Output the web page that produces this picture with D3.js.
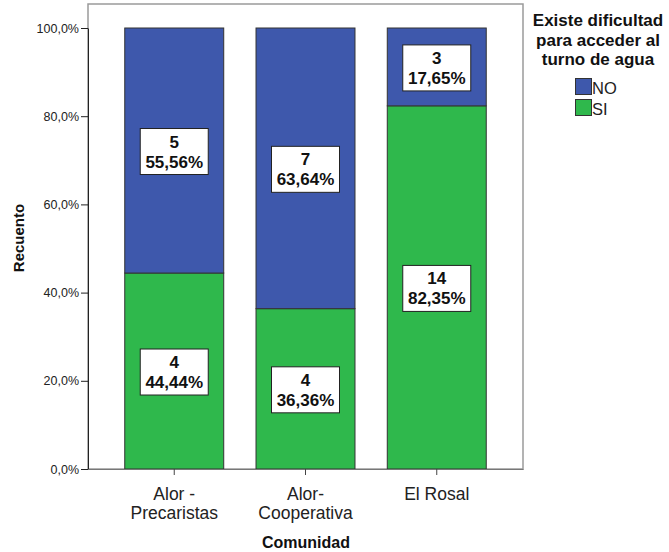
<!DOCTYPE html>
<html><head><meta charset="utf-8">
<script src="https://cdn.jsdelivr.net/npm/d3@7"></script>
<style>body{margin:0;background:#fff;font-family:"Liberation Sans",Arial,sans-serif;}</style>
</head><body><svg id="c" width="669" height="552"></svg>
<script>
const categories = ["Alor -\nPrecaristas", "Alor-\nCooperativa", "El Rosal"];
const seriesNames = ["NO", "SI"];
const countsNO = [5, 7, 3];
const countsSI = [4, 4, 14];
const pctNO = [55.56, 63.64, 17.65];
const pctSI = [44.44, 36.36, 82.35];
const yTicks = [0, 20, 40, 60, 80, 100];
const colors = {NO: "#3e58ac", SI: "#2fb84c"};

const svg = d3.select("#c");
const L = 88, R = 523, T = 4, B = 469;
const x = d3.scaleBand().domain(categories).range([L, R]).paddingInner(0.246).paddingOuter(0.28);
const y = d3.scaleLinear().domain([0, 100]).range([B, 28]);

// frame
svg.append("rect").attr("x", L).attr("y", T).attr("width", R - L).attr("height", B - T)
  .attr("fill", "#fff").attr("stroke", "#9a9a9a").attr("stroke-width", 1.5);

const fmt = v => d3.format(".1f")(v).replace(".", ",") + "%";
const fmt2 = v => d3.format(".2f")(v).replace(".", ",") + "%";

// bars
categories.forEach((c, i) => {
  const segs = [
    {k: "SI", y0: 0, y1: pctSI[i], n: countsSI[i], p: pctSI[i]},
    {k: "NO", y0: pctSI[i], y1: pctSI[i] + pctNO[i], n: countsNO[i], p: pctNO[i]}
  ];
  segs.forEach(s => {
    svg.append("rect").attr("x", x(c)).attr("y", y(s.y1)).attr("width", x.bandwidth())
      .attr("height", y(s.y0) - y(s.y1)).attr("fill", colors[s.k])
      .attr("stroke", "#333").attr("stroke-width", 1);
  });
  segs.forEach(s => {
    const cx = x(c) + x.bandwidth() / 2, cy = (y(s.y0) + y(s.y1)) / 2;
    const g = svg.append("g");
    g.append("rect").attr("x", cx - 34).attr("y", cy - 22).attr("width", 68).attr("height", 46)
      .attr("fill", "#fff").attr("stroke", "#222").attr("stroke-width", 1);
    g.append("text").attr("x", cx).attr("y", cy - 3).attr("text-anchor", "middle")
      .attr("font-size", 17).attr("font-weight", "bold").attr("fill", "#111").text(s.n);
    g.append("text").attr("x", cx).attr("y", cy + 17).attr("text-anchor", "middle")
      .attr("font-size", 17).attr("font-weight", "bold").attr("fill", "#111").text(fmt2(s.p));
  });
});

// y axis
const ya = svg.append("g").attr("transform", `translate(${L},0)`)
  .call(d3.axisLeft(y).tickValues(yTicks).tickFormat(fmt).tickSize(7).tickSizeOuter(0));
ya.select(".domain").attr("stroke", "#222");
ya.selectAll(".tick line").attr("stroke", "#222");
ya.selectAll(".tick text").attr("font-size", 12.5).attr("fill", "#222")
  .attr("font-family", "Liberation Sans, Arial, sans-serif").attr("x", -9);

// x axis
const xa = svg.append("g").attr("transform", `translate(0,${B})`)
  .call(d3.axisBottom(x).tickSize(6).tickSizeOuter(0).tickFormat(""));
xa.select(".domain").attr("stroke", "#777");
xa.selectAll(".tick line").attr("stroke", "#444");
categories.forEach(c => {
  const lines = c.split("\n");
  const t = svg.append("text").attr("text-anchor", "middle").attr("font-size", 17.5).attr("fill", "#222");
  lines.forEach((ln, j) => t.append("tspan").attr("x", x(c) + x.bandwidth() / 2).attr("y", 500 + j * 19).text(ln));
});

svg.append("text").attr("x", 306).attr("y", 548).attr("text-anchor", "middle")
  .attr("font-size", 16).attr("font-weight", "bold").attr("fill", "#111").text("Comunidad");
svg.append("text").attr("transform", "translate(24,238) rotate(-90)").attr("text-anchor", "middle")
  .attr("font-size", 15).attr("font-weight", "bold").attr("fill", "#111").text("Recuento");

// legend
const lt = ["Existe dificultad", "para acceder al", "turno de agua"];
lt.forEach((s, j) => svg.append("text").attr("x", 598).attr("y", 26 + j * 19.5).attr("text-anchor", "middle")
  .attr("font-size", 17).attr("font-weight", "bold").attr("fill", "#111").text(s));
seriesNames.forEach((s, j) => {
  svg.append("rect").attr("x", 575.5).attr("y", 78.5 + j * 21).attr("width", 16).attr("height", 16)
    .attr("fill", colors[s]).attr("stroke", "#333").attr("stroke-width", 1);
  svg.append("text").attr("x", 592).attr("y", 94 + j * 21).attr("font-size", 16.5).attr("fill", "#222").text(s);
});
</script></body></html>
